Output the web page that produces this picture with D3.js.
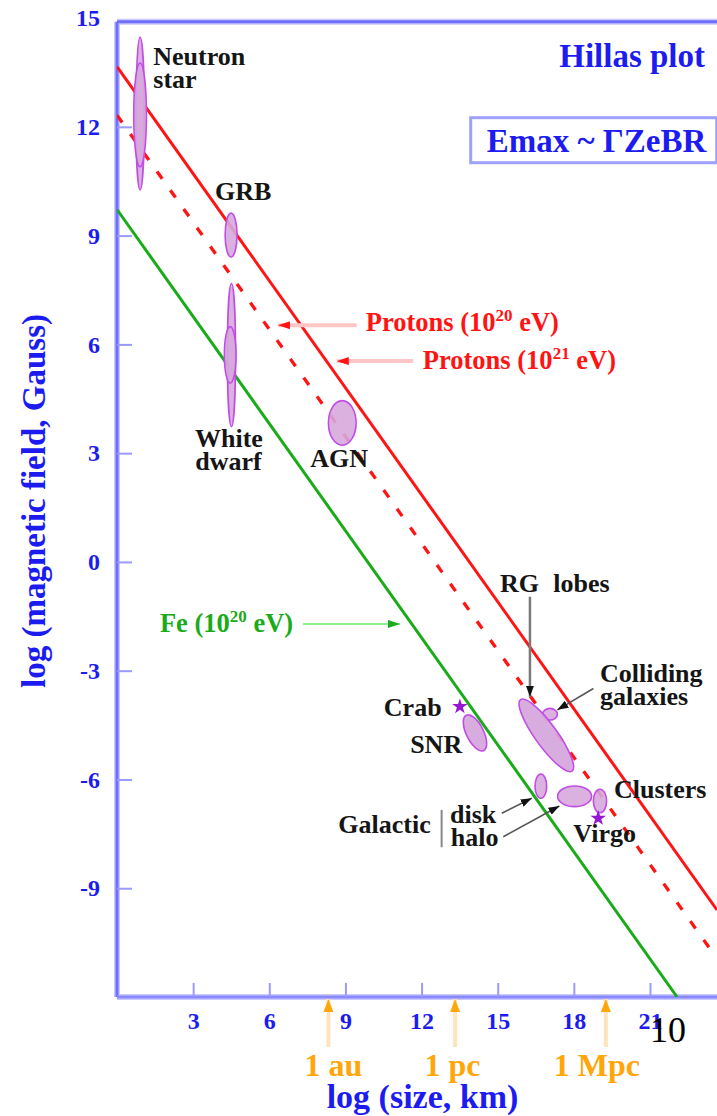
<!DOCTYPE html>
<html>
<head>
<meta charset="utf-8">
<script src="https://cdn.jsdelivr.net/npm/d3@7"></script>
<style>
  html, body { margin: 0; padding: 0; background: #fff; }
  svg { display: block; }
  text { font-family: "Liberation Serif", "Times New Roman", serif; font-weight: bold; }
</style>
</head>
<body>
<svg id="chart" width="717" height="1116"></svg>
<script>
// ---- data (log10 size in km, log10 field in gauss) ----
const sizeTicks = [3, 6, 9, 12, 15, 18, 21];
const fieldTicks = [-9, -6, -3, 0, 3, 6, 9, 12, 15];

// Maximum-energy confinement lines, B*R = const
const protons21 = [[0, 13.66], [23.64, -9.60]];
const protons20 = [[0, 12.32], [23.64, -10.94]];
const iron20 = [[0, 9.72], [22.07, -12.0]];

// Source classes: range in log size and log field
const sourceNames = ["Neutron star", "Neutron star", "GRB", "White dwarf", "White dwarf",
                     "AGN", "Colliding galaxies", "Galactic disk", "Galactic halo", "Clusters"];
const sizeRange = [[0.745, 1.075], [0.66, 1.16], [4.26, 4.73], [4.35, 4.67], [4.23, 4.69],
                   [8.33, 9.42], [16.77, 17.35], [16.47, 16.93], [17.36, 18.70], [18.77, 19.29]];
const fieldRange = [[10.26, 14.47], [10.90, 13.76], [8.41, 9.62], [3.73, 7.68], [4.93, 6.49],
                    [3.22, 4.45], [-4.36, -4.04], [-6.52, -5.85], [-6.75, -6.18], [-6.92, -6.27]];

// Classes whose size and field are correlated: ends of the long axis + breadth (log size)
const tiltedNames = ["SNR", "RG lobes"];
const tiltedFrom = [[13.76, -4.23], [15.90, -3.80]];
const tiltedTo = [[14.45, -5.20], [17.93, -5.77]];
const tiltedBreadth = [0.68, 0.87];

// Individual objects
const starNames = ["Crab", "Virgo"];
const starPoints = [[13.51, -3.99], [18.96, -7.07]];

// Reference lengths on the size axis
const unitNames = ["1 au", "1 pc", "1 Mpc"];
const unitLogKm = [8.33, 13.32, 19.26];

// ---- drawing ----
const svg = d3.select("#chart");
const x = d3.scaleLinear().domain([0, 23.64]).range([117, 717]);
const y = d3.scaleLinear().domain([-12, 14.9]).range([997, 21.7]);

const BLUE = "#1c1cf0";
const RED = "#ff1414";
const GREEN = "#1aab1a";
const ORANGE = "#ffa60a";
const INK = "#151515";

const defs = svg.append("defs");
defs.append("clipPath").attr("id", "plotArea")
  .append("rect")
  .attr("x", x(0)).attr("y", y(14.9))
  .attr("width", x(23.64) - x(0)).attr("height", y(-12) - y(14.9));

function marker(id, color, len, wid) {
  defs.append("marker")
    .attr("id", id)
    .attr("markerUnits", "userSpaceOnUse")
    .attr("viewBox", `0 0 ${len} ${wid}`)
    .attr("refX", len).attr("refY", wid / 2)
    .attr("markerWidth", len).attr("markerHeight", wid)
    .attr("orient", "auto")
    .append("path")
    .attr("d", `M0,0L${len},${wid / 2}L0,${wid}Z`)
    .attr("fill", color);
}
marker("headBlack", "#111", 11, 8);
marker("headRed", RED, 12, 8);
marker("headGreen", GREEN, 12, 8);
marker("headOrange", ORANGE, 13, 10);

// Axis frame
const frame = svg.append("g");
const frameSegs = [
  [[0, -12], [0, 14.9]],
  [[0, -12], [23.64, -12]],
  [[0, 14.9], [23.64, 14.9]]
];
frameSegs.forEach(s => {
  frame.append("line")
    .attr("x1", x(s[0][0])).attr("y1", y(s[0][1]))
    .attr("x2", x(s[1][0])).attr("y2", y(s[1][1]))
    .attr("stroke", "#c9c9ff").attr("stroke-width", 6);
});
frameSegs.forEach((s, i) => {
  frame.append("line")
    .attr("x1", x(s[0][0])).attr("y1", y(s[0][1]))
    .attr("x2", x(s[1][0])).attr("y2", y(s[1][1]))
    .attr("stroke", i === 1 ? "#8a8aff" : "#6e6eff").attr("stroke-width", 3);
});

// Axes
const yAxis = svg.append("g")
  .attr("transform", `translate(${x(0)},0)`)
  .call(d3.axisLeft(y).tickValues(fieldTicks).tickSize(-15).tickPadding(17).tickFormat(d => String(d)));
yAxis.select(".domain").remove();
yAxis.selectAll(".tick").filter(d => d === 15).select("line").remove();
yAxis.selectAll(".tick line").attr("stroke", "#9a9aff").attr("stroke-width", 2);
yAxis.selectAll("text").attr("fill", BLUE).attr("font-size", 24);

const xAxis = svg.append("g")
  .attr("transform", `translate(0,${y(-12)})`)
  .call(d3.axisBottom(x).tickValues(sizeTicks).tickSize(-14).tickPadding(15).tickFormat(d => String(d)));
xAxis.select(".domain").remove();
xAxis.selectAll(".tick line").attr("stroke", "#9a9aff").attr("stroke-width", 2);
xAxis.selectAll("text").attr("fill", BLUE).attr("font-size", 24);

// Axis titles
svg.append("text")
  .attr("transform", "translate(44.5,501) rotate(-90)")
  .attr("text-anchor", "middle")
  .attr("font-size", 33).attr("fill", BLUE)
  .text("log (magnetic field, Gauss)");
svg.append("text")
  .attr("x", 422.5).attr("y", 1108)
  .attr("text-anchor", "middle")
  .attr("font-size", 34).attr("fill", BLUE)
  .text("log (size, km)");

// Title and formula box
svg.append("text")
  .attr("x", 705).attr("y", 67).attr("text-anchor", "end")
  .attr("font-size", 33).attr("fill", BLUE)
  .text("Hillas plot");
svg.append("rect")
  .attr("x", 470.7).attr("y", 117.7).attr("width", 246).attr("height", 45)
  .attr("fill", "none").attr("stroke", "#a0a0ff").attr("stroke-width", 3);
svg.append("text")
  .attr("x", 486.7).attr("y", 151.7)
  .attr("font-size", 33).attr("fill", BLUE)
  .text("Emax ~ \u0393ZeBR");

// Limit lines
const plot = svg.append("g").attr("clip-path", "url(#plotArea)");
const line = d3.line().x(d => x(d[0])).y(d => y(d[1]));
plot.append("path").attr("d", line(iron20))
  .attr("fill", "none").attr("stroke", GREEN).attr("stroke-width", 3);
plot.append("path").attr("d", line(protons20))
  .attr("fill", "none").attr("stroke", RED).attr("stroke-width", 3.3)
  .attr("stroke-dasharray", "9,14");
plot.append("path").attr("d", line(protons21))
  .attr("fill", "none").attr("stroke", RED).attr("stroke-width", 3);

// Source regions
const FILL = "#d6a8dc";
const EDGE = "#c24ce6";
sourceNames.forEach((name, i) => {
  const [r0, r1] = sizeRange[i];
  const [b0, b1] = fieldRange[i];
  plot.append("ellipse")
    .attr("class", "source")
    .attr("cx", (x(r0) + x(r1)) / 2)
    .attr("cy", (y(b0) + y(b1)) / 2)
    .attr("rx", (x(r1) - x(r0)) / 2)
    .attr("ry", Math.abs(y(b1) - y(b0)) / 2)
    .attr("fill", FILL).attr("fill-opacity", 0.9)
    .attr("stroke", EDGE).attr("stroke-width", 1.6);
});
tiltedNames.forEach((name, i) => {
  const p1 = [x(tiltedFrom[i][0]), y(tiltedFrom[i][1])];
  const p2 = [x(tiltedTo[i][0]), y(tiltedTo[i][1])];
  const cx = (p1[0] + p2[0]) / 2, cy = (p1[1] + p2[1]) / 2;
  const a = Math.hypot(p2[0] - p1[0], p2[1] - p1[1]) / 2;
  const b = (x(tiltedBreadth[i]) - x(0)) / 2;
  const ang = Math.atan2(p2[1] - p1[1], p2[0] - p1[0]) * 180 / Math.PI;
  plot.append("ellipse")
    .attr("cx", cx).attr("cy", cy).attr("rx", a).attr("ry", b)
    .attr("transform", `rotate(${ang},${cx},${cy})`)
    .attr("fill", FILL).attr("fill-opacity", 0.95)
    .attr("stroke", EDGE).attr("stroke-width", 1.6);
});
starPoints.forEach(p => {
  plot.append("path")
    .attr("d", d3.symbol(d3.symbolStar, 75)())
    .attr("transform", `translate(${x(p[0])},${y(p[1])})`)
    .attr("fill", "#9616d6");
});

// Callout arrows (tail -> tip, in data units)
function arrow(tail, tip, color, width, head) {
  svg.append("line")
    .attr("x1", x(tail[0])).attr("y1", y(tail[1]))
    .attr("x2", x(tip[0])).attr("y2", y(tip[1]))
    .attr("stroke", color).attr("stroke-width", width)
    .attr("marker-end", `url(#${head})`);
}
arrow([9.44, 6.53], [6.34, 6.53], "#ffc6c6", 4, "headRed");
arrow([11.67, 5.54], [8.66, 5.54], "#ffc6c6", 4, "headRed");
arrow([7.33, -1.71], [11.15, -1.71], "#8ff08f", 2, "headGreen");
arrow([16.27, -0.96], [16.27, -3.72], "#7a7a7a", 2.5, "headBlack");
arrow([18.77, -3.49], [17.35, -4.08], "#555", 1.6, "headBlack");
arrow([15.16, -6.93], [16.34, -6.52], "#555", 1.6, "headBlack");
arrow([15.22, -7.58], [17.43, -6.73], "#555", 1.6, "headBlack");
svg.append("line")
  .attr("x1", x(12.79)).attr("y1", y(-6.84))
  .attr("x2", x(12.79)).attr("y2", y(-7.87))
  .attr("stroke", "#888").attr("stroke-width", 2);

// Labels for source classes
const notes = [
  { t: "Neutron", v: 1.43, b: 13.70, a: "start" },
  { t: "star", v: 1.43, b: 13.06, a: "start" },
  { t: "GRB", v: 3.86, b: 9.98, a: "start" },
  { t: "White", v: 4.41, b: 3.18, a: "middle" },
  { t: "dwarf", v: 4.39, b: 2.53, a: "middle" },
  { t: "AGN", v: 8.75, b: 2.63, a: "middle" },
  { t: "RG", v: 15.09, b: -0.83, a: "start" },
  { t: "lobes", v: 17.19, b: -0.83, a: "start" },
  { t: "Colliding", v: 19.03, b: -3.31, a: "start" },
  { t: "galaxies", v: 19.03, b: -3.95, a: "start" },
  { t: "Crab", v: 12.79, b: -4.25, a: "end" },
  { t: "SNR", v: 13.60, b: -5.27, a: "end" },
  { t: "Clusters", v: 19.58, b: -6.51, a: "start" },
  { t: "Virgo", v: 17.98, b: -7.72, a: "start" },
  { t: "Galactic", v: 8.72, b: -7.48, a: "start" },
  { t: "disk", v: 13.12, b: -7.21, a: "start" },
  { t: "halo", v: 13.15, b: -7.84, a: "start" }
];
svg.append("g").selectAll("text").data(notes).join("text")
  .attr("x", d => x(d.v)).attr("y", d => y(d.b))
  .attr("text-anchor", d => d.a)
  .attr("font-size", 26).attr("fill", INK)
  .text(d => d.t);

// Labels for the limit lines
function limitLabel(v, b, color, base, exp) {
  const t = svg.append("text")
    .attr("x", x(v)).attr("y", y(b))
    .attr("font-size", 26.5).attr("fill", color);
  t.append("tspan").text(base);
  t.append("tspan").attr("font-size", 17).attr("dy", -10).text(exp);
  t.append("tspan").attr("dy", 10).text("\u00a0eV)");
}
limitLabel(9.80, 6.37, RED, "Protons (10", "20");
limitLabel(12.05, 5.31, RED, "Protons (10", "21");
limitLabel(1.69, -1.92, GREEN, "Fe (10", "20");

// Reference lengths below the size axis
const unitShift = [5, -2.5, -9];
unitLogKm.forEach((v, i) => {
  svg.append("line")
    .attr("x1", x(v)).attr("y1", 1047)
    .attr("x2", x(v)).attr("y2", 999)
    .attr("stroke", "#ffe4ba").attr("stroke-width", 4)
    .attr("marker-end", "url(#headOrange)");
  svg.append("text")
    .attr("x", x(v) + unitShift[i]).attr("y", 1076)
    .attr("text-anchor", "middle")
    .attr("font-size", 32).attr("fill", ORANGE)
    .text(unitNames[i]);
});

// Slide number
svg.append("text")
  .attr("x", 650).attr("y", 1042)
  .attr("font-size", 36)
  .style("font-weight", "normal")
  .attr("fill", "#000")
  .text("10");
</script>
</body>
</html>
